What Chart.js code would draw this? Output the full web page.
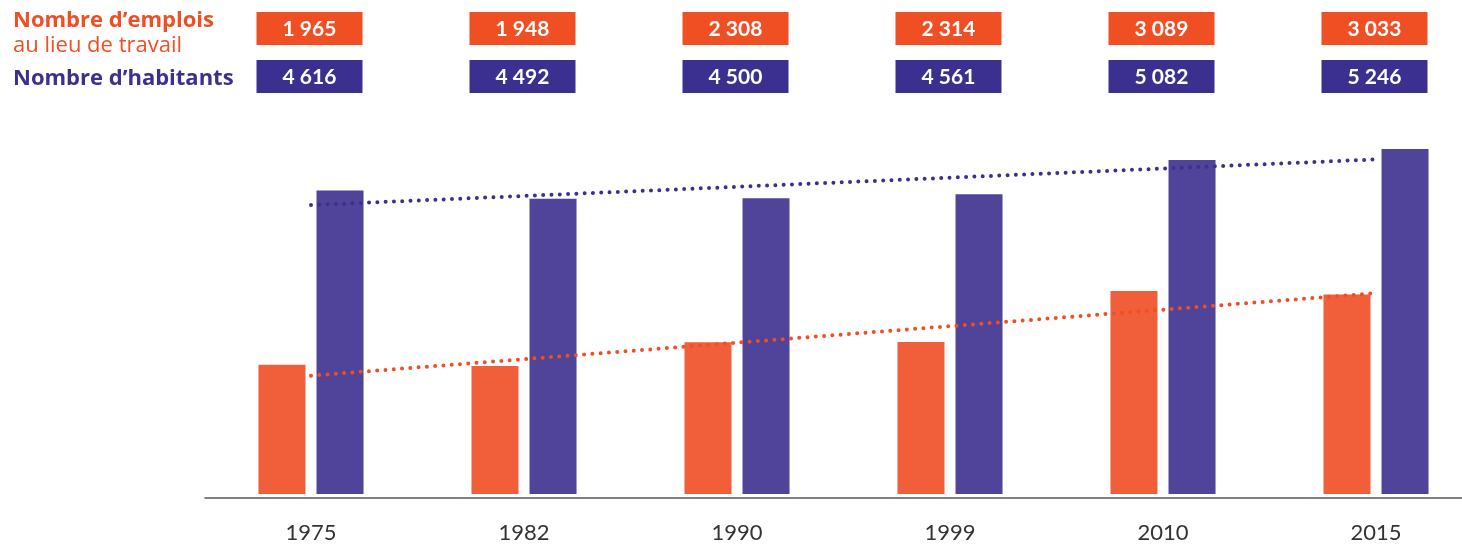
<!DOCTYPE html>
<html lang="fr">
<head>
<meta charset="UTF-8">
<title>Emplois et habitants</title>
<style>
  html, body { margin: 0; padding: 0; background: #fff; }
  canvas { display: block; }
</style>
</head>
<body>
<canvas id="graficoEmplois" width="1462" height="549"></canvas>

<script src="https://cdn.jsdelivr.net/npm/chart.js"></script>
<script>
  const annees = ['1975', '1982', '1990', '1999', '2010', '2015'];
  const emplois = [1965, 1948, 2308, 2314, 3089, 3033];
  const habitants = [4616, 4492, 4500, 4561, 5082, 5246];
  // droites de tendance (début et fin)
  const tendanceEmplois = [1800, null, null, null, null, 3055];
  const tendanceHabitants = [4395, null, null, null, null, 5090];

  const orange = '#F05F39';
  const violet = '#4F4499';
  const orangeFort = '#F04E23';
  const violetFort = '#3B3090';

  function formatNombre(n) {
    return String(n).replace(/\B(?=(\d{3})+(?!\d))/g, ' ');
  }

  // cases du haut + libellés + axe du bas
  const tableauHaut = {
    id: 'tableauHaut',
    afterDraw(chart) {
      const ctx = chart.ctx;
      const x = chart.scales.x;
      const bas = chart.chartArea.bottom;
      const pas = x.getPixelForValue(1) - x.getPixelForValue(0);
      ctx.save();

      ctx.strokeStyle = '#808080';
      ctx.lineWidth = 2;
      ctx.beginPath();
      ctx.moveTo(x.getPixelForValue(0) - pas / 2, bas + 4);
      ctx.lineTo(chart.width, bas + 4);
      ctx.stroke();

      ctx.textAlign = 'center';
      ctx.textBaseline = 'middle';
      ctx.font = 'bold 21px Lato';
      annees.forEach((a, i) => {
        const cx = x.getPixelForValue(i) - 1.5;
        ctx.fillStyle = orangeFort;
        ctx.fillRect(cx - 53, 12, 106, 33);
        ctx.fillStyle = violetFort;
        ctx.fillRect(cx - 53, 60, 106, 33);
        ctx.fillStyle = '#fff';
        ctx.fillText(formatNombre(emplois[i]), cx, 29);
        ctx.fillText(formatNombre(habitants[i]), cx, 77);
      });

      ctx.textAlign = 'left';
      ctx.textBaseline = 'alphabetic';
      ctx.fillStyle = orangeFort;
      ctx.font = 'bold 22px "Open Sans"';
      ctx.fillText('Nombre d’emplois', 13, 27);
      ctx.font = '22px "Open Sans"';
      ctx.fillText('au lieu de travail', 13, 52);
      ctx.fillStyle = violetFort;
      ctx.font = 'bold 22px "Open Sans"';
      ctx.fillText('Nombre d’habitants', 13, 85);
      ctx.restore();
    }
  };

  new Chart(document.getElementById('graficoEmplois'), {
    type: 'bar',
    data: {
      labels: annees,
      datasets: [
        {
          type: 'line',
          label: 'Tendance habitants',
          data: tendanceHabitants,
          borderColor: violetFort,
          borderWidth: 4,
          borderDash: [0, 8.3],
          borderCapStyle: 'round',
          pointRadius: 0,
          spanGaps: true,
          order: 0
        },
        {
          type: 'line',
          label: 'Tendance emplois',
          data: tendanceEmplois,
          borderColor: orangeFort,
          borderWidth: 4,
          borderDash: [0, 8.3],
          borderCapStyle: 'round',
          pointRadius: 0,
          spanGaps: true,
          order: 0
        },
        {
          label: 'Nombre d’emplois au lieu de travail',
          data: emplois,
          backgroundColor: orange,
          categoryPercentage: 0.545,
          barPercentage: 0.81,
          clip: false,
          order: 1
        },
        {
          label: 'Nombre d’habitants',
          data: habitants,
          backgroundColor: violet,
          categoryPercentage: 0.545,
          barPercentage: 0.81,
          clip: false,
          order: 1
        }
      ]
    },
    options: {
      responsive: false,
      animation: false,
      devicePixelRatio: 1,
      layout: { padding: { left: 311, right: 86, top: 139, bottom: 0 } },
      plugins: {
        legend: { display: false },
        tooltip: { enabled: false }
      },
      scales: {
        x: {
          offset: false,
          grid: { display: false, drawTicks: false },
          border: { display: false },
          ticks: {
            autoSkip: false,
            maxRotation: 0,
            padding: 26,
            color: '#333',
            font: { family: 'Lato', size: 22 }
          },
          afterFit: function (scale) { scale.height = 55; }
        },
        y: {
          display: false,
          min: 0,
          max: 5400
        }
      }
    },
    plugins: [tableauHaut]
  });
</script>
</body>
</html>
